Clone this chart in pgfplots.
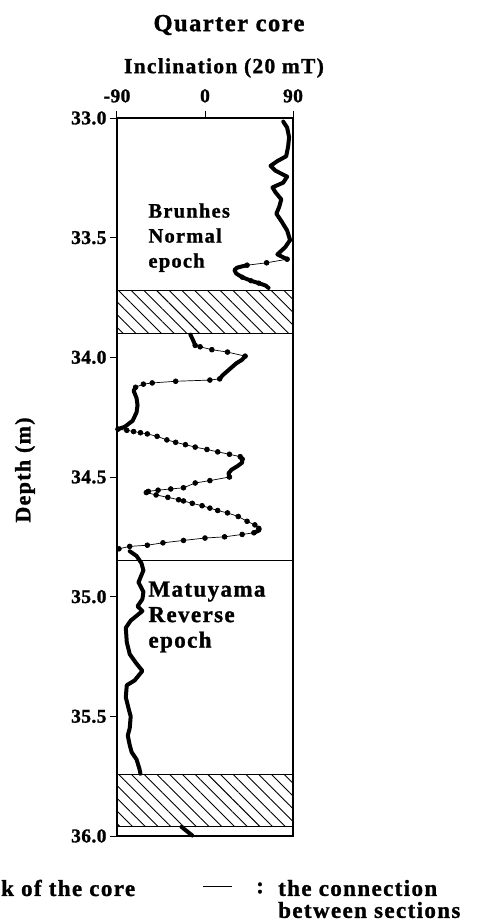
\documentclass[border=0pt]{standalone}
\usepackage{pgfplots}
\pgfplotsset{compat=1.18}
\usepackage{fontspec}
\setmainfont{Liberation Serif}[LetterSpace=6, BoldFeatures={FakeBold=1.2}]
\newfontfamily\tickfont{Liberation Serif}[LetterSpace=2, BoldFeatures={FakeBold=1.2}]
\usetikzlibrary{patterns.meta}
\newcommand{\lbl}{\fontsize{20.5}{25}\selectfont\bfseries}
\newcommand{\lblb}{\fontsize{23}{25.5}\selectfont\bfseries}
\newcommand{\leg}{\fontsize{23}{25}\selectfont\bfseries}
\begin{document}
\begin{tikzpicture}
\path[use as bounding box] (-117pt,-87pt) rectangle (361pt,836pt);
\begin{axis}[
  at={(0pt,0pt)}, anchor=south west,
  width=176pt, height=718pt, scale only axis,
  xmin=-90, xmax=90, ymin=33, ymax=36, y dir=reverse,
  xtick={-90,0,90}, ytick={33,33.5,34,34.5,35,35.5,36},
  xtick pos=right, xticklabel pos=right, ytick pos=left,
  tick align=outside, major tick length=7pt,
  tick style={line width=1pt, black},
  axis line style={line width=1.3pt},
  ticklabel style={font=\tickfont\fontsize{19.5}{19.5}\selectfont\bfseries},
  /pgf/number format/assume math mode=true,
  yticklabel style={/pgf/number format/.cd, fixed, fixed zerofill, precision=1},
  xticklabel style={yshift=5pt, /pgf/number format/.cd, fixed, precision=0},
  clip=false,
]
% lost core intervals and section boundaries
\draw[line width=1pt, pattern={Lines[angle=-45,distance=9pt,line width=0.9pt]}] (axis cs:-90,33.72) rectangle (axis cs:90,33.90);
\draw[line width=1pt, pattern={Lines[angle=-45,distance=9pt,line width=0.9pt]}] (axis cs:-90,35.745) rectangle (axis cs:90,35.96);
\draw[line width=1pt] (axis cs:-90,34.85) -- (axis cs:90,34.85);

% ---- section 1 (thick: densely measured)
\addplot[line width=4pt, line join=round, line cap=round] coordinates {
(80,33.015) (84,33.04) (86,33.08) (85,33.12) (83,33.16) (74,33.18) (67,33.20) (72,33.22) (84,33.245)
(80,33.27) (69,33.29) (72,33.31) (78,33.34) (76,33.37) (73,33.40) (78,33.43) (84,33.47) (87,33.51)
(82,33.54) (74,33.57) (84,33.59)};
\addplot[line width=0.7pt, mark=*, mark size=2.4pt] coordinates {(84,33.59) (63,33.605) (43,33.615)};
\addplot[line width=4pt, line join=round, line cap=round] coordinates {
(43,33.615) (33,33.625) (30,33.635) (32,33.65) (38,33.665) (47,33.68) (55,33.69) (62,33.70) (65,33.71)};
\addplot[only marks, mark=*, mark size=2.4pt] coordinates {(38,33.665) (47,33.68) (55,33.69)};

% ---- section 2
\addplot[line width=4pt, line join=round, line cap=round] coordinates {(-15,33.905) (-12,33.93) (-10,33.95)};
\addplot[line width=0.7pt, mark=*, mark size=2.4pt] coordinates {
(-10,33.95) (-5,33.956) (7,33.968) (23,33.978) (41,33.995)};
\addplot[line width=4pt, line join=round, line cap=round] coordinates {
(41,33.995) (38,34.01) (32,34.025) (25,34.05) (18,34.075) (15,34.09)};
\addplot[line width=0.7pt, mark=*, mark size=2.4pt] coordinates {
(15,34.09) (5,34.095) (-30,34.10) (-54,34.107) (-63,34.112) (-71,34.125)};
\addplot[line width=4pt, line join=round, line cap=round] coordinates {
(-71,34.125) (-73,34.14) (-70,34.17) (-69,34.20) (-70,34.23) (-74,34.265) (-82,34.29) (-89,34.30)};
\addplot[line width=0.7pt, mark=*, mark size=2.4pt] coordinates {
(-89,34.30) (-80,34.305) (-73,34.31) (-66,34.315) (-59,34.32) (-49,34.33) (-39,34.345) (-30,34.355)
(-20,34.365) (-10,34.375) (2,34.385) (13,34.395) (25,34.405) (36,34.415) (38,34.425)};
\addplot[line width=4pt, line join=round, line cap=round] coordinates {
(38,34.425) (38,34.44) (33,34.455) (27,34.47) (24,34.485) (25,34.50)};
\addplot[line width=0.7pt, mark=*, mark size=2.4pt] coordinates {
(25,34.50) (5,34.515) (-10,34.525) (-22,34.545) (-35,34.55) (-48,34.555) (-58,34.56) (-60,34.565)
(-50,34.575) (-38,34.585) (-27,34.595) (-22,34.60) (-13,34.61) (-3,34.62) (5,34.63) (13,34.64)
(23,34.65) (34,34.665) (43,34.685) (51,34.70) (55,34.715)};
\addplot[line width=4pt, line join=round, line cap=round] coordinates {(55,34.712) (56,34.722) (50,34.733)};
\addplot[line width=0.7pt, mark=*, mark size=2.4pt] coordinates {
(50,34.733) (38,34.74) (20,34.75) (0,34.755) (-22,34.765) (-43,34.775) (-59,34.785) (-77,34.79) (-88,34.80)};

% ---- section 3
\addplot[line width=4pt, line join=round, line cap=round] coordinates {
(-77,34.81) (-70,34.83) (-65,34.86) (-63,34.89) (-68,34.94) (-63,34.98) (-64,35.01) (-69,35.04)
(-64,35.06) (-76,35.10) (-81,35.13) (-80,35.19) (-77,35.24) (-70,35.28) (-64,35.31) (-72,35.35)
(-80,35.37) (-81,35.42) (-78,35.47) (-76,35.50) (-77,35.55) (-79,35.58) (-77,35.62) (-75,35.65)
(-70,35.68) (-67,35.72) (-66,35.74)};

% ---- section 4
\addplot[line width=4pt, line cap=round] coordinates {(-24,35.962) (-13,35.998)};

\node[anchor=west, align=left, inner sep=0pt, font=\lbl] at (axis cs:-58,33.50) {Brunhes\\Normal\\epoch};
\node[anchor=west, align=left, inner sep=0pt, font=\lblb] at (axis cs:-58,35.085) {Matuyama\\Reverse\\epoch};
\end{axis}

\node[font=\fontsize{24.5}{24.5}\selectfont\bfseries] at (112pt,811pt) {Quarter core};
\node[font=\fontsize{21.5}{21.5}\selectfont\bfseries] at (107pt,768pt) {Inclination (20 mT)};
\node[font=\fontsize{22}{22}\selectfont\bfseries, rotate=90] at (-92pt,366pt) {Depth (m)};

% legend
\node[anchor=west, inner sep=0pt, font=\leg] at (-116pt,-52pt) {k of the core};
\draw[line width=1pt] (86pt,-50pt) -- (115pt,-50pt);
\node[anchor=west, inner sep=0pt, font=\leg] at (139pt,-52pt) {:};
\node[anchor=west, inner sep=0pt, font=\leg] at (161pt,-52pt) {the connection};
\node[anchor=west, inner sep=0pt, font=\leg] at (161pt,-74pt) {between sections};
\end{tikzpicture}
\end{document}
